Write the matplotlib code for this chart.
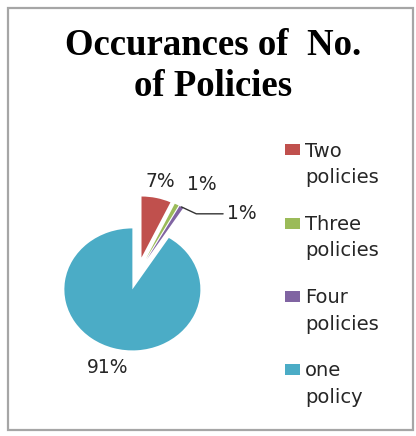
import numpy as np
import matplotlib.pyplot as plt
from matplotlib.patches import Rectangle

# Datos del gráfico
categorias = ['Two\npolicies', 'Three\npolicies', 'Four\npolicies', 'one\npolicy']
valores = [7, 1, 1, 91]
colores = ['#C0504D', '#9BBB59', '#8064A2', '#4BACC6']
titulo = 'Occurances of  No.\nof Policies'

W, H = 416, 436
fig = plt.figure(figsize=(W / 100, H / 100), dpi=100)

# Marco gris alrededor del gráfico
fig.patches.append(Rectangle((8 / W, 6 / H), 405 / W, 422 / H, transform=fig.transFigure,
                             fill=False, edgecolor='#a6a6a6', linewidth=1.6))

# Título
fig.text(213 / W, 1 - 66 / H, titulo, ha='center', va='center', family='Liberation Serif',
         fontweight='bold', fontsize=26.5, linespacing=1.2, color='black')

# Pastel (1 unidad = 68 px en x, 61 px en y)
rx, ry = 68, 61
cx, cy = 137.5, 273.6
ax = fig.add_axes([(cx - 2 * rx) / W, (H - cy - 2 * ry) / H, 4 * rx / W, 4 * ry / H])
wedges, _ = ax.pie(valores, colors=colores, startangle=90, counterclock=False,
                   explode=[0.27] * 4, wedgeprops=dict(linewidth=0))
ax.set_aspect('auto')
ax.set_xlim(-2, 2)
ax.set_ylim(-2, 2)
ax.axis('off')

fuente = dict(family='DejaVu Sans', fontsize=13.5, color='#262626')
radios = [1.55, 1.75, None, 1.6]
ajuste_ang = [0, -6, 0, 0]
for i, w in enumerate(wedges):
    ang = np.deg2rad((w.theta1 + w.theta2) / 2)
    txt = f'{valores[i]}%'
    if radios[i] is None:
        tip = (1.27 * np.cos(ang), 1.27 * np.sin(ang))
        ax.annotate(txt, xy=tip, xytext=(1.32, 0.98), ha='left', va='center', **fuente,
                    arrowprops=dict(arrowstyle='-', color='#333333', lw=1,
                                    connectionstyle='angle,angleA=0,angleB=-25,rad=0',
                                    shrinkA=1, shrinkB=0))
        continue
    a = ang + np.deg2rad(ajuste_ang[i])
    ax.text(radios[i] * np.cos(a), radios[i] * np.sin(a), txt, ha='center', va='center', **fuente)

# Leyenda manual (cuadro alineado con la primera línea)
leyenda = dict(fuente, fontsize=14)
for i, (cat, col) in enumerate(zip(categorias, colores)):
    y = 150 + 73.3 * i
    fig.patches.append(Rectangle((285 / W, 1 - (y + 5.5) / H), 15 / W, 11 / H,
                                 transform=fig.transFigure, facecolor=col, edgecolor='none'))
    # va='baseline' usa la línea de base de la última línea
    fig.text(305 / W, 1 - (y + 6 + 27) / H, cat, ha='left', va='baseline', linespacing=1.5, **leyenda)

fig.savefig('out.png', dpi=100, facecolor='white')
